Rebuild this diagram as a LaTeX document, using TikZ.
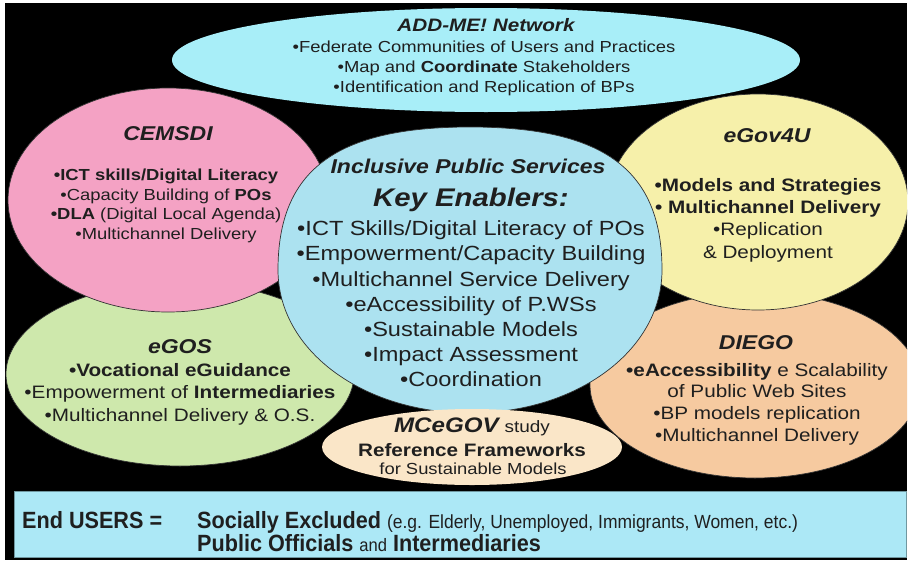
\documentclass[tikz,border=0pt]{standalone}
\usepackage{fontspec}
\setmainfont{Liberation Sans}[FakeStretch=1.15]
\newfontfamily\narrowfont{Liberation Sans}[FakeStretch=0.92]
\usepackage{tikz}

\definecolor{addmeblue}{RGB}{168,238,248}
\definecolor{keyblue}{RGB}{172,226,240}
\definecolor{cemsdipink}{RGB}{244,162,196}
\definecolor{egovyellow}{RGB}{246,240,170}
\definecolor{egosgreen}{RGB}{206,232,172}
\definecolor{diegopeach}{RGB}{246,202,160}
\definecolor{mcegovcream}{RGB}{250,230,200}
\definecolor{usersblue}{RGB}{172,232,246}

\newcommand{\fsz}[2]{\fontsize{#1}{#2}\selectfont}

\tikzset{
  blob/.style={draw=black!80, line width=0.7pt},
  txt/.style={inner sep=0pt, align=center, text=black!88},
  head/.style={txt, font=\fsz{20}{22}\bfseries\itshape},
  users/.style={txt, anchor=base west, font=\narrowfont\fsz{23.5}{24}\bfseries},
}

\begin{document}
\begin{tikzpicture}[x=1pt,y=1pt,yscale=-1,xscale=1]
\useasboundingbox (0,0) rectangle (909,562);
%Background
\fill[white] (0,0) rectangle (909,562);
\fill[black] (5,3) rectangle (907,560);

\begin{scope}
\clip (5,3) rectangle (907,560);
%Shape: Ellipse [eGOS]
\draw[blob, fill=egosgreen] (180,374) ellipse (174 and 92);
%Shape: Ellipse [DIEGO]
\draw[blob, fill=diegopeach] (755,385) ellipse (165 and 93);
%Shape: Ellipse [CEMSDI]
\draw[blob, fill=cemsdipink] (168,200) ellipse (160 and 112);
%Shape: Ellipse [eGov4U]
\draw[blob, fill=egovyellow] (758,202) ellipse (150 and 108);
%Shape: Ellipse [ADD-ME]
\fill[addmeblue] (486,60) ellipse (314 and 52);
%Shape: Ellipse [Key Enablers], a bit fuller at the top
\draw[blob, fill=keyblue] (278,270) .. controls (278,170) and (336,127) .. (470,127)
  .. controls (604,127) and (662,170) .. (662,270)
  .. controls (662,350) and (577.5,413) .. (470,413)
  .. controls (362.5,413) and (278,350) .. (278,270) -- cycle;
%Shape: Ellipse [MCeGOV]
\fill[mcegovcream] (472,447) ellipse (150 and 38);
\end{scope}

%Shape: Rectangle [End USERS]
\draw[usersblue!65!black, fill=usersblue, line width=0.8pt] (14,491) rectangle (906,557);

% Text Node
\node[head, font=\fsz{18}{20}\bfseries\itshape] (addmeTitle) at (486,25) {ADD-ME! Network};
% Text Node
\node[txt, font=\fsz{16}{20}] (addmeList) at (484,68) {•Federate Communities of Users and Practices\\•Map and \textbf{Coordinate} Stakeholders\\•Identification and Replication of BPs};

% Text Node
\node[head] (cemsdiTitle) at (168,134) {CEMSDI};
% Text Node
\node[txt, font=\fsz{16}{19.5}] (cemsdiList) at (166,206) {\textbf{•ICT skills/Digital Literacy}\\•Capacity Building of \textbf{POs}\\\textbf{•DLA} (Digital Local Agenda)\\•Multichannel Delivery};

% Text Node
\node[head] (keyTitle) at (468,166) {Inclusive Public Services};
% Text Node
\node[head, font=\fsz{25.5}{27}\bfseries\itshape] (keyHead) at (471,200) {Key Enablers:};
% Text Node
\node[txt, font=\fsz{20.5}{25.2}] (keyList) at (471,304) {•ICT Skills/Digital Literacy of POs\\•Empowerment/Capacity Building\\•Multichannel Service Delivery\\•eAccessibility of P.WSs\\•Sustainable Models\\•Impact Assessment\\•Coordination};

% Text Node
\node[head] (egovTitle) at (767,136) {eGov4U};
% Text Node
\node[txt, font=\fsz{18}{22.3}] (egovList) at (768,220) {\textbf{•Models and Strategies}\\\textbf{• Multichannel Delivery}\\•Replication\\\& Deployment};

% Text Node
\node[head] (egosTitle) at (180,347) {eGOS};
% Text Node
\node[txt, font=\fsz{18}{22.5}] (egosList) at (180,394) {\textbf{•Vocational eGuidance}\\•Empowerment of \textbf{Intermediaries}\\•Multichannel Delivery \& O.S.};

% Text Node
\node[head] (diegoTitle) at (756,343) {DIEGO};
% Text Node
\node[txt, font=\fsz{18}{21.7}] (diegoList) at (757,404) {\textbf{•eAccessibility} e Scalability\\of Public Web Sites\\•BP models replication\\•Multichannel Delivery};

% Text Node
\node[txt, font=\fsz{18}{20}] (mcegovHead) at (472,427) {{\fsz{21}{22}\bfseries\itshape MCeGOV} {\fsz{16.5}{20}study}};
% Text Node
\node[txt, font=\fsz{18}{20}\bfseries] (mcegovRef) at (472,450) {Reference Frameworks};
% Text Node
\node[txt, font=\fsz{16}{18}] (mcegovFor) at (473,469) {for Sustainable Models};

% Text Node
\node[users] (endUsers) at (22,528) {End USERS =};
% Text Node
\node[users] (excluded) at (197,528) {Socially Excluded {\mdseries\fsz{19}{19}(e.g. Elderly, Unemployed, Immigrants, Women, etc.)}};
% Text Node
\node[users] (officials) at (197,551) {Public Officials {\mdseries\fsz{18}{18}and} Intermediaries};

\end{tikzpicture}
\end{document}
